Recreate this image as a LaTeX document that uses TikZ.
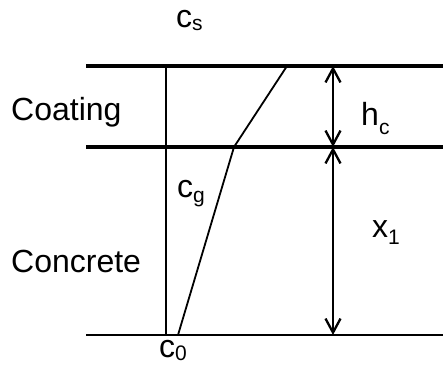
\documentclass[tikz,border=0pt]{standalone}
\usepackage{fontspec}
\setmainfont{Liberation Sans}
\usetikzlibrary{arrows.meta}
\newcommand\sbs[2]{\raisebox{-#1pt}{\fontsize{21}{25}\selectfont #2}}
\begin{document}
\begin{tikzpicture}[x=1pt,y=-1pt,
  lbl/.style={inner sep=0pt,anchor=base west,font=\fontsize{32}{38}\selectfont},
  thickline/.style={line width=3.3pt},
  thinline/.style={line width=1.8pt},
  dim/.style={line width=2.3pt,{Straight Barb[length=14pt,width=15pt,line width=2.3pt]}-{Straight Barb[length=14pt,width=15pt,line width=2.3pt]}}]
\useasboundingbox (0,0) rectangle (443,364);
% boundary coordinates
\coordinate (tl) at (86,66);  \coordinate (tr) at (443,66);
\coordinate (ml) at (86,147); \coordinate (mr) at (443,147);
\coordinate (bl) at (86,335); \coordinate (br) at (443,335);
\coordinate (vt) at (166,66); \coordinate (vb) at (166,335);
\coordinate (p1) at (287,66); \coordinate (p2) at (234,147); \coordinate (p3) at (178,335);
\coordinate (a1) at (333,66); \coordinate (a2) at (333,147); \coordinate (a3) at (333,335);
% lines
\draw[thickline] (tl) -- (tr);
\draw[thickline] (ml) -- (mr);
\draw[thinline] (bl) -- (br);
\draw[thinline] (vt) -- (vb);
\draw[thinline] (p1) -- (p2) -- (p3);
\draw[dim] (a1) -- (a2);
\draw[dim] (a2) -- (a3);
% labels
\node[lbl] (cs) at (176,27) {c\sbs{3}{s}};
\node[lbl] (coat) at (11,120) {Coating};
\node[lbl] (hc) at (361,125) {h\sbs{9}{c}};
\node[lbl] (cg) at (177,197) {c\sbs{5}{g}};
\node[lbl] (x1) at (372,237) {x\sbs{7}{1}};
\node[lbl] (conc) at (11,272) {Concrete};
\node[lbl] (c0) at (159,357) {c\sbs{3.5}{0}};
\end{tikzpicture}
\end{document}
